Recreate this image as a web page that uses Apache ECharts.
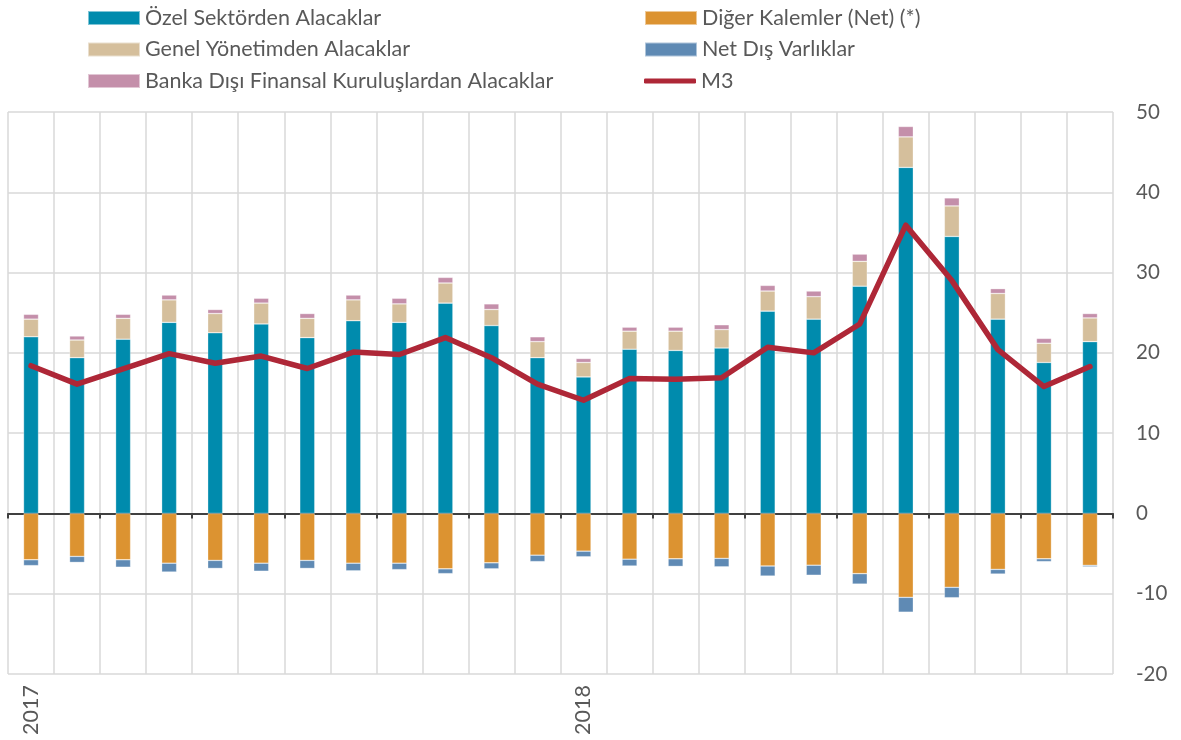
<!DOCTYPE html>
<html>
<head>
<meta charset="utf-8">
<script src="https://cdn.jsdelivr.net/npm/echarts@6/dist/echarts.min.js"></script>
<style>
html,body{margin:0;padding:0;background:#fff;}
#chart{width:1181px;height:740px;}
</style>
</head>
<body>
<div id="chart"></div>
<script>
// Months Jan 2017 .. Dec 2018
const categories = ['2017-01','2017-02','2017-03','2017-04','2017-05','2017-06','2017-07','2017-08','2017-09','2017-10','2017-11','2017-12',
                    '2018-01','2018-02','2018-03','2018-04','2018-05','2018-06','2018-07','2018-08','2018-09','2018-10','2018-11','2018-12'];
const yTickLabels = ['-20','-10','0','10','20','30','40','50'];

const ozelSektor = [22.0,19.4,21.7,23.8,22.5,23.6,21.9,24.0,23.8,26.2,23.4,19.4,17.0,20.45,20.3,20.6,25.2,24.2,28.3,43.1,34.5,24.2,18.8,21.4];
const digerKalemler = [-5.77,-5.35,-5.77,-6.2,-5.85,-6.2,-5.85,-6.2,-6.2,-6.9,-6.15,-5.2,-4.7,-5.7,-5.65,-5.6,-6.55,-6.45,-7.5,-10.45,-9.2,-6.97,-5.65,-6.47];
const genelYonetim = [2.2,2.2,2.6,2.8,2.4,2.6,2.4,2.6,2.3,2.5,2.0,2.0,1.8,2.25,2.4,2.3,2.5,2.8,3.1,3.8,3.8,3.2,2.4,2.95];
const netDisVarlik = [-0.73,-0.75,-0.93,-1.1,-1.0,-1.0,-1.0,-0.95,-0.8,-0.6,-0.75,-0.8,-0.7,-0.85,-0.95,-1.05,-1.25,-1.25,-1.3,-1.85,-1.3,-0.58,-0.35,-0.18];
const bankaDisi = [0.6,0.5,0.5,0.6,0.5,0.6,0.6,0.6,0.7,0.7,0.7,0.6,0.5,0.5,0.5,0.6,0.7,0.7,0.9,1.3,1.0,0.6,0.6,0.55];
const m3 = [18.4,16.1,18.0,19.9,18.7,19.6,18.05,20.1,19.8,21.9,19.4,16.1,14.1,16.8,16.7,16.9,20.7,20.0,23.6,35.9,29.0,20.4,15.8,18.3];

const names = ['Özel Sektörden Alacaklar','Diğer Kalemler (Net) (*)','Genel Yönetimden Alacaklar','Net Dış Varlıklar','Banka Dışı Finansal Kuruluşlardan Alacaklar','M3'];
const colors = ['#008BAD','#DC9331','#D5BF9C','#5F8AB4','#C48FAA','#AE2737'];

const FONT = 'Lato';
const TXT = '#595959';

const chart = echarts.init(document.getElementById('chart'), null, {renderer:'canvas'});

function barSeries(i, data){
  return {
    name: names[i], type:'bar', stack:'total', data: data, barWidth: 15,
    xAxisIndex: 0,
    itemStyle:{color: colors[i], borderColor:'rgba(255,255,255,0.5)', borderWidth:0.6},
    emphasis:{disabled:true}
  };
}

const legendCommon = {
  orient:'vertical', itemWidth:52, itemHeight:14, itemGap:9.5, padding:0,
  textStyle:{fontFamily:FONT, fontSize:21.5, color:TXT, padding:[0,0,0,0]},
  selectedMode:false
};

chart.setOption({
  animation:false,
  color: colors,
  legend:[
    Object.assign({}, legendCommon, {left:87, top:7, data:[
      {name:names[0], icon:'rect'},{name:names[2], icon:'rect'},{name:names[4], icon:'rect'}]}),
    Object.assign({}, legendCommon, {left:644, top:7, data:[
      {name:names[1], icon:'rect'},{name:names[3], icon:'rect'}]}),
    Object.assign({}, legendCommon, {left:644, top:70, itemHeight:5, data:[
      {name:names[5], icon:'roundRect'}]})
  ],
  grid:{left:8, right:68, top:112, bottom:66, containLabel:false},
  xAxis:[
    {
      type:'category', data:categories, position:'bottom',
      boundaryGap:true,
      axisLine:{show:false, onZero:false},
      axisTick:{show:false},
      splitLine:{show:true, lineStyle:{color:'#D9D9D9', width:1.5}},
      axisLabel:{
        interval:0, rotate:90, margin:11,
        fontFamily:FONT, fontSize:21.5, color:TXT,
        formatter:function(v){ return v.slice(5)==='01' ? v.slice(0,4) : ''; }
      }
    },
    {
      type:'category', data:categories, position:'bottom',
      boundaryGap:true,
      axisLine:{show:true, onZero:true, lineStyle:{color:'#404040', width:2}},
      axisTick:{show:true, length:5, lineStyle:{color:'#404040', width:2}},
      axisLabel:{show:false},
      splitLine:{show:false}
    }
  ],
  yAxis:{
    type:'value', position:'right', min:-20, max:50, interval:10,
    axisLine:{show:false}, axisTick:{show:false},
    splitLine:{show:true, lineStyle:{color:'#D9D9D9', width:1.5}},
    axisLabel:{
      margin:23, fontFamily:FONT, fontSize:20.5, color:TXT,
      formatter:function(v){ return yTickLabels[yTickLabels.indexOf(String(v))] || String(v); }
    }
  },
  series:[
    barSeries(0, ozelSektor),
    barSeries(1, digerKalemler),
    barSeries(2, genelYonetim),
    barSeries(3, netDisVarlik),
    barSeries(4, bankaDisi),
    {
      name:names[5], type:'line', data:m3, xAxisIndex:0,
      symbol:'none', lineStyle:{color:colors[5], width:5.5, cap:'round', join:'round'},
      itemStyle:{color:colors[5]}, z:5,
      emphasis:{disabled:true}
    }
  ]
});
</script>
</body>
</html>
